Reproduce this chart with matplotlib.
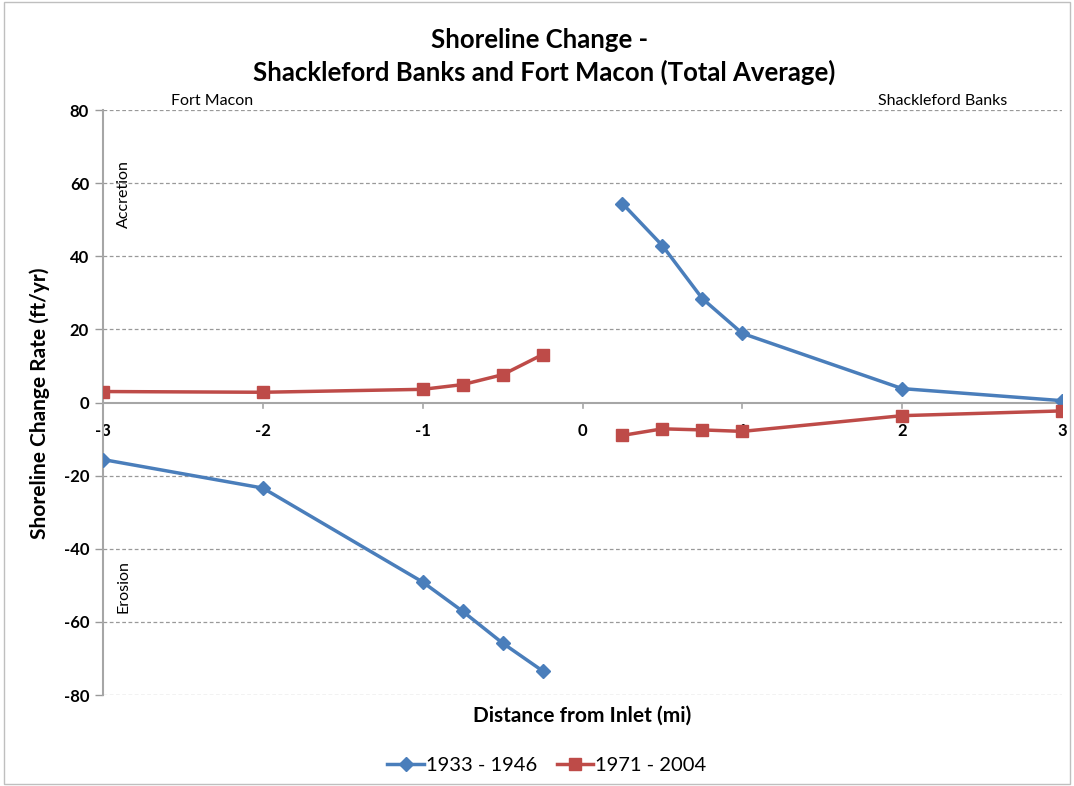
import matplotlib.pyplot as plt
from matplotlib.patches import Rectangle

plt.rcParams['font.family'] = ['Lato', 'DejaVu Sans']
plt.rcParams['axes.unicode_minus'] = False

# distance from inlet (mi) and shoreline change rate (ft/yr)
x_early_fm = [-3, -2, -1, -0.75, -0.5, -0.25]
y_early_fm = [-15.6, -23.4, -49.1, -57.1, -65.8, -73.4]
x_early_sb = [0.25, 0.5, 0.75, 1, 2, 3]
y_early_sb = [54.4, 42.9, 28.4, 18.9, 3.8, 0.5]

x_late_fm = [-3, -2, -1, -0.75, -0.5, -0.25]
y_late_fm = [3.0, 2.8, 3.6, 4.9, 7.6, 13.1]
x_late_sb = [0.25, 0.5, 0.75, 1, 2, 3]
y_late_sb = [-9.0, -7.2, -7.5, -7.9, -3.6, -2.3]

labels = ['1933 - 1946', '1971 - 2004']
blue = '#4a7ebb'
red = '#be4b48'

fig = plt.figure(figsize=(10.74, 7.86), dpi=100)
ax = fig.add_axes([103/1074, 1 - 695/786, (1062-103)/1074, (695-110)/786])

ax.plot(x_early_fm, y_early_fm, color=blue, lw=2.5, marker='D', ms=7, label=labels[0], zorder=3)
ax.plot(x_early_sb, y_early_sb, color=blue, lw=2.5, marker='D', ms=7, zorder=3)
ax.plot(x_late_fm, y_late_fm, color=red, lw=2.5, marker='s', ms=8, label=labels[1], zorder=3)
ax.plot(x_late_sb, y_late_sb, color=red, lw=2.5, marker='s', ms=8, zorder=3)

ax.set_xlim(-3, 3)
ax.set_ylim(-80, 80)
ax.set_yticks(range(-80, 81, 20))
ax.set_xticks(range(-3, 4))
for y in range(-80, 81, 20):
    if y != 0:
        ax.axhline(y, color='#999999', lw=0.9, ls=(0, (3, 2)), zorder=0)

for s in ['top', 'right', 'bottom']:
    ax.spines[s].set_visible(False)
ax.spines['left'].set_color('#a6a6a6')
ax.spines['left'].set_linewidth(1.5)
ax.axhline(0, color='#a6a6a6', lw=1.5, zorder=1)

ax.tick_params(axis='y', length=6, color='#999999', width=1, labelsize=12, pad=4)
ax.tick_params(axis='x', length=0, labelsize=12, pad=0)
for t in ax.get_yticklabels():
    t.set_fontweight('bold')
ax.set_xticklabels([])
# x tick labels sit just under the zero line
for xv in range(-3, 4):
    ax.text(xv, -7.9, str(xv), ha='center', va='center', fontsize=12, fontweight='bold', zorder=2)
    ax.plot([xv, xv], [0, -1.6], color='#a6a6a6', lw=1.2, clip_on=False, zorder=1)

ax.text(-2.32, 80.5, 'Fort Macon', ha='center', va='bottom', fontsize=11.5)
ax.text(2.25, 80.5, 'Shackleford Banks', ha='center', va='bottom', fontsize=11.5)
ax.text(-2.87, 57, 'Accretion', rotation=90, ha='center', va='center', fontsize=11.5)
ax.text(-2.87, -50.3, 'Erosion', rotation=90, ha='center', va='center', fontsize=11.5)

fig.text(540/1074, 1 - 40/786, 'Shoreline Change -', ha='center', va='center',
         fontsize=18.5, fontweight='bold')
fig.text(544/1074, 1 - 72/786, 'Shackleford Banks and Fort Macon (Total Average)',
         ha='center', va='center', fontsize=18.5, fontweight='bold')
fig.text(40/1074, 1 - 403/786, 'Shoreline Change Rate (ft/yr)', rotation=90,
         ha='center', va='center', fontsize=15, fontweight='bold')
fig.text(582/1074, 1 - 716/786, 'Distance from Inlet (mi)', ha='center', va='center',
         fontsize=15, fontweight='bold')

fig.legend(loc='center', bbox_to_anchor=(547/1074, 1 - 765/786), ncol=2, frameon=False,
           fontsize=14.5, handlelength=1.8, columnspacing=1.0, handletextpad=0.1)

fig.patches.append(Rectangle((4/1074, 2/786), 1066/1074, 782/786, transform=fig.transFigure,
                             fill=False, edgecolor='#bfbfbf', lw=1))

fig.savefig('out.png', dpi=100)
